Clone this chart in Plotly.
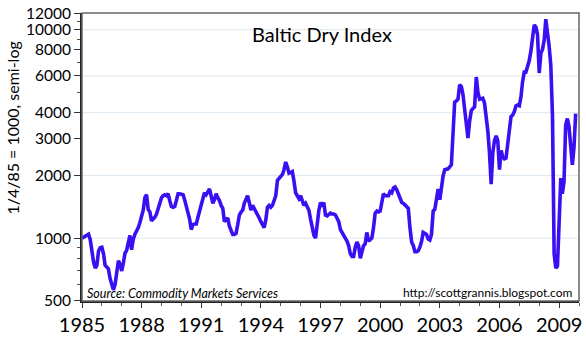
import math
import pandas as pd
import plotly.graph_objects as go

# ---- data (monthly, index 1/4/85 = 1000) ----
start_month = "1985-01-01"
bdi = [
    1000, 1010, 1025, 1040, 1045, 985, 860, 770, 718, 740, 868, 900,
    905, 840, 742, 730, 712, 640, 608, 565, 600, 705, 780, 750,
    696, 762, 845, 875, 970, 1030, 880, 990, 1045, 1077, 1124, 1190,
    1280, 1365, 1565, 1615, 1375, 1335, 1211, 1235, 1260, 1305, 1406, 1500,
    1565, 1598, 1615, 1598, 1633, 1516, 1420, 1406, 1420, 1516, 1633, 1633,
    1615, 1615, 1530, 1436, 1335, 1235, 1100, 1161, 1170, 1170, 1260, 1350,
    1420, 1500, 1650, 1615, 1686, 1722, 1598, 1470, 1530, 1633, 1565, 1516,
    1436, 1390, 1200, 1223, 1250, 1140, 1077, 1043, 1043, 1055, 1161, 1291,
    1335, 1362, 1470, 1530, 1598, 1483, 1362, 1436, 1390, 1350, 1291, 1250,
    1200, 1161, 1124, 1223, 1406, 1436, 1406, 1436, 1516, 1598, 1895, 1940,
    1978, 2021, 2131, 2321, 2200, 2050, 2065, 2086, 1875, 1650, 1598, 1548,
    1598, 1483, 1436, 1470, 1406, 1362, 1235, 1100, 1032, 1000, 1223, 1362,
    1483, 1420, 1483, 1291, 1280, 1305, 1319, 1305, 1305, 1291, 1235, 1200,
    1100, 1066, 1032, 990, 968, 920, 843, 817, 817, 908, 958, 920,
    800, 861, 920, 938, 1066, 968, 979, 1000, 1124, 1319, 1350, 1335,
    1350, 1516, 1633, 1598, 1598, 1598, 1670, 1650, 1740, 1759, 1705, 1615,
    1548, 1483, 1470, 1436, 1420, 1390, 1124, 958, 920, 861, 861, 870,
    908, 968, 1066, 1055, 1043, 990, 979, 1043, 1350, 1375, 1516, 1722,
    1530, 1778, 1978, 2131, 2131, 2150, 2200, 2248, 3196, 4494, 4560, 4640,
    5446, 5340, 4894, 4190, 3443, 3020, 3631, 4085, 4190, 4261, 5932, 5000,
    4640, 4690, 4690, 4440, 3831, 3265, 2582, 1816, 2582, 2934, 3095, 2934,
    2131, 2638, 2448, 2400, 2420, 2812, 3370, 3831, 3900, 4050, 4320, 4353,
    4320, 4791, 5620, 6257, 6257, 6601, 7100, 7890, 9482, 10545, 10300, 9482,
    6200, 7740, 8050, 8900, 11245, 9789, 8342, 6750, 3870, 843, 718, 734,
    1124, 1940, 1633, 1875, 3480, 3750, 3443, 2638, 2248, 2723, 3955,
]
dates = pd.date_range(start_month, periods=len(bdi), freq="MS")

y_tick_vals = [500, 1000, 2000, 3000, 4000, 6000, 8000, 10000, 12000]
y_grid_vals = [1000, 2000, 4000, 6000, 10000]
y_minor_vals = [600, 700, 800, 900, 5000, 7000, 9000, 11000]
x_tick_years = list(range(1985, 2010, 3))
x_minor_years = list(range(1985, 2011))
x_range_years = [1985, 2010]
y_range_vals = [499.5, 12030]

title_text = "Baltic Dry Index"
y_title_text = "1/4/85 = 1000, semi-log"
source_text = "Source: Commodity Markets Services"
url_text = "http://scottgrannis.blogspot.com"

FONT = "Lato"
LINE_COLOR = "#3a10f2"
GRID_COLOR = "#dce6ee"

fig = go.Figure()

x0 = f"{x_range_years[0]}-01-01"
x1 = f"{x_range_years[1]}-01-01"
for gv in y_grid_vals:
    fig.add_trace(go.Scatter(
        x=[x0, x1], y=[gv, gv], mode="lines",
        line=dict(color=GRID_COLOR, width=1),
        hoverinfo="skip", showlegend=False,
    ))

fig.add_trace(go.Scatter(
    x=dates, y=bdi, mode="lines",
    line=dict(color=LINE_COLOR, width=3.6),
    showlegend=False,
))

fig.update_layout(
    width=586, height=340,
    margin=dict(l=82, r=4, t=10, b=31),
    paper_bgcolor="white", plot_bgcolor="white",
    font=dict(family=FONT, color="black"),
    xaxis=dict(
        type="date",
        range=[x0, x1],
        tickmode="array",
        tickvals=[f"{y}-01-01" for y in x_tick_years],
        ticktext=[str(y) for y in x_tick_years],
        ticks="outside", ticklen=5, tickwidth=1, tickcolor="#333",
        showline=True, linecolor="#222", linewidth=2,
        showgrid=False, zeroline=False,
        ticklabeloverflow="allow",
        tickfont=dict(family=FONT, size=20, color="black"),
        minor=dict(
            tickmode="array",
            tickvals=[f"{y}-01-01" for y in x_minor_years],
            ticks="outside", ticklen=3, tickcolor="#555", tickwidth=1,
            showgrid=False,
        ),
    ),
    yaxis=dict(
        type="log",
        range=[math.log10(y_range_vals[0]), math.log10(y_range_vals[1])],
        tickmode="array",
        tickvals=y_tick_vals,
        ticktext=[str(v) for v in y_tick_vals],
        ticks="outside", ticklen=6, tickwidth=1, tickcolor="#333",
        showline=True, linecolor="#222", linewidth=2,
        showgrid=False, zeroline=False,
        ticklabeloverflow="allow",
        tickfont=dict(family=FONT, size=15.5, color="black"),
        minor=dict(
            tickmode="array",
            tickvals=y_minor_vals,
            ticks="outside", ticklen=3, tickcolor="#555", tickwidth=1,
            showgrid=False,
        ),
    ),
    shapes=[dict(
        type="rect", xref="paper", yref="paper",
        x0=0, x1=1, y0=0, y1=1,
        line=dict(color="#666", width=1.5), layer="above",
    )],
    annotations=[
        dict(text=title_text, xref="paper", yref="paper",
             x=0.482, y=0.926, xanchor="center", yanchor="middle",
             showarrow=False, font=dict(family=FONT, size=20, color="black")),
        dict(text=y_title_text, xref="paper", yref="paper",
             x=-0.14, y=0.6, xanchor="center", yanchor="middle",
             textangle=-90, showarrow=False,
             font=dict(family=FONT, size=16, color="black")),
        dict(text=f"<i>{source_text}</i>", xref="paper", yref="paper",
             x=0.006, y=0.025, xanchor="left", yanchor="middle",
             showarrow=False, font=dict(family=FONT, size=12.5, color="black")),
        dict(text=url_text, xref="paper", yref="paper",
             x=0.99, y=0.028, xanchor="right", yanchor="middle",
             showarrow=False, font=dict(family=FONT, size=12, color="black")),
    ],
)

fig.write_html("out.html")
